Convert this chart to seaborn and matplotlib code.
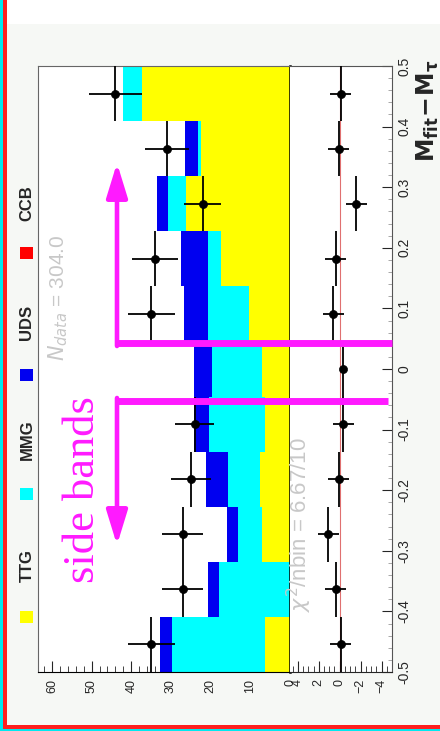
import numpy as np
import pandas as pd
import matplotlib
matplotlib.use("Agg")
import matplotlib.pyplot as plt
from matplotlib.patches import Rectangle
from matplotlib.ticker import MultipleLocator, FuncFormatter
import seaborn as sns

sns.set_style("white")
plt.rcParams["font.family"] = ["Liberation Sans", "DejaVu Sans"]

# Binning in M_fit - M_tau (11 bins between -0.5 and 0.5)
m_edges = np.linspace(-0.5, 0.5, 12)
m_centers = (m_edges[:-1] + m_edges[1:]) / 2

# Stacked MC components per bin
ttg = [6.4, 0.0, 7.1, 7.6, 6.4, 7.1, 10.4, 17.3, 26.2, 22.4, 37.2]
mmg = [23.4, 17.8, 5.9, 7.9, 14.0, 12.5, 10.2, 3.3, 4.6, 0.8, 4.8]
uds = [3.0, 2.8, 2.8, 5.6, 3.8, 4.6, 6.1, 6.9, 2.8, 3.3, 0.0]
ccb = [0.0] * 11

# Data (signal bin is blinded)
data_counts = [35, 27, 27, 25, 24, np.nan, 35, 34, 22, 31, 44]
data_err = [5.9, 5.2, 5.2, 5.0, 4.9, np.nan, 5.9, 5.8, 4.7, 5.6, 6.6]

# Residuals in the lower pad
pulls = [-0.1, 0.4, 1.1, 0.1, -0.35, -0.35, 0.6, 0.4, -1.6, 0.1, -0.1]
pull_err = [1.0, 1.0, 1.0, 1.0, 1.0, 0.0, 1.0, 1.0, 1.0, 1.0, 1.0]

components = ["TTG", "MMG", "UDS", "CCB"]
colors = {"TTG": "#ffff00", "MMG": "#00ffff", "UDS": "#0000f0", "CCB": "#ff0000"}

df = pd.DataFrame({
    "m": np.tile(m_centers, 4),
    "count": ttg + mmg + uds + ccb,
    "comp": np.repeat(components, 11),
})

W, H = 440, 731
fig = plt.figure(figsize=(W / 100, H / 100), dpi=100, facecolor="#f6f8f5")


def box(x0, y0, x1, y1):
    return [x0 / W, 1 - y1 / H, (x1 - x0) / W, (y1 - y0) / H]


ax = fig.add_axes(box(38, 66, 290, 672))
axr = fig.add_axes(box(290, 66, 392, 672))

# stacked histogram, drawn sideways (picture is rotated)
sns.histplot(data=df, y="m", weights="count", hue="comp",
             hue_order=["CCB", "UDS", "MMG", "TTG"], multiple="stack",
             bins=[float(e) for e in m_edges], palette=colors, alpha=1,
             linewidth=0, legend=False, ax=ax)

half = (m_edges[1] - m_edges[0]) / 2
ax.errorbar(x=data_counts, y=m_centers, xerr=data_err, yerr=half,
            fmt="none", ecolor="black", elinewidth=1.3, zorder=4)
sns.scatterplot(x=data_counts, y=m_centers, color="black", s=34,
                edgecolor="black", ax=ax, zorder=5)

ax.set_xlim(63.5, 0)
ax.set_ylim(-0.5, 0.5)
ax.set_xlabel("")
ax.set_ylabel("")
ax.xaxis.set_major_locator(MultipleLocator(10))
ax.xaxis.set_minor_locator(MultipleLocator(2))
ax.yaxis.set_major_locator(MultipleLocator(0.1))
ax.yaxis.set_minor_locator(MultipleLocator(0.02))
ax.tick_params(axis="x", which="both", direction="in", bottom=True,
               labelrotation=90, labelsize=9, pad=5)
ax.tick_params(axis="x", which="major", length=8, width=0.8)
ax.tick_params(axis="x", which="minor", length=4, width=0.6)
ax.tick_params(axis="y", which="both", direction="in", left=False,
               right=True, labelleft=False, labelright=False, color="#999999")
ax.tick_params(axis="y", which="major", length=7)
ax.tick_params(axis="y", which="minor", length=3)
for s in ["top", "left"]:
    ax.spines[s].set_color("#666666")
    ax.spines[s].set_linewidth(0.8)
ax.spines["right"].set_color("black")
ax.spines["right"].set_linewidth(1.8)
ax.spines["bottom"].set_color("black")
ax.set_facecolor("white")

# residual pad
axr.axvline(0, color="#e07070", lw=0.8, zorder=1)
axr.errorbar(x=pulls, y=m_centers, xerr=pull_err, yerr=half, fmt="none",
             ecolor="black", elinewidth=1.3, zorder=4)
sns.scatterplot(x=pulls, y=m_centers, color="black", s=34,
                edgecolor="black", ax=axr, zorder=5)
axr.set_xlim(4.75, -5.0)
axr.set_ylim(-0.5, 0.5)
axr.xaxis.set_major_locator(MultipleLocator(2))
axr.xaxis.set_minor_locator(MultipleLocator(0.5))
axr.yaxis.set_major_locator(MultipleLocator(0.1))
axr.yaxis.set_minor_locator(MultipleLocator(0.02))
axr.yaxis.set_major_formatter(FuncFormatter(lambda v, p: "0" if abs(v) < 1e-9 else f"{v:.1f}"))
axr.tick_params(axis="x", which="both", direction="in", bottom=True,
                labelrotation=90, labelsize=9, pad=5)
axr.tick_params(axis="x", which="major", length=8, width=0.8)
axr.tick_params(axis="x", which="minor", length=4, width=0.6)
axr.tick_params(axis="y", which="both", direction="in", left=False,
                right=True, labelleft=False, labelright=True,
                labelrotation=90, labelsize=10, pad=4)
axr.tick_params(axis="y", which="major", length=7)
axr.tick_params(axis="y", which="minor", length=3, color="#999999")
for lab in axr.get_yticklabels():
    lab.set_va("center")
for s in ["top", "left", "right"]:
    axr.spines[s].set_color("#555555")
    axr.spines[s].set_linewidth(0.8)
axr.spines["left"].set_visible(False)
axr.set_xlabel("")
axr.set_ylabel("")
axr.set_facecolor("white")

fig.text(428 / W, 1 - 60 / H, r"$\mathbf{M_{fit}\!-\!M_{\tau}}$", rotation=90,
         ha="center", va="top", fontsize=17)

# overlay in pixel coordinates for legend, annotations and frame
ov = fig.add_axes([0, 0, 1, 1], zorder=10)
ov.set_xlim(0, W)
ov.set_ylim(H, 0)
ov.axis("off")
ov.patch.set_visible(False)

# white strip along the top of the page
ov.add_patch(Rectangle((0, 0), W, 24, color="white", lw=0, zorder=0))

legend_y = {"TTG": (617, 566), "MMG": (494, 440), "UDS": (375, 322), "CCB": (253, 203)}
for comp, (ym, yt) in legend_y.items():
    ov.add_patch(Rectangle((20, ym - 6), 13, 12, color=colors[comp], lw=0))
    ov.text(27, yt, comp, rotation=90, ha="center", va="center",
            fontsize=12, fontweight="bold")

ov.text(58, 298, r"$N_{data}$ = 304.0", rotation=90, ha="center",
        va="center", fontsize=15, color="#c8c8c8")
ov.text(299, 525, r"$\chi^2$/nbin = 6.67/10", rotation=90, ha="center",
        va="center", fontsize=16, color="#c8c8c8")

mag = "#ff1aff"
ov.plot([117, 392], [343, 343], color=mag, lw=5, solid_capstyle="butt")
ov.plot([115, 388], [401, 401], color=mag, lw=5, solid_capstyle="butt")
ov.annotate("", xy=(117, 163), xytext=(117, 346),
            arrowprops=dict(arrowstyle="-|>,head_length=1.3,head_width=0.4",
                            color=mag, lw=3.3, mutation_scale=16,
                            shrinkA=0, shrinkB=0))
ov.annotate("", xy=(117, 545), xytext=(117, 398),
            arrowprops=dict(arrowstyle="-|>,head_length=1.3,head_width=0.4",
                            color=mag, lw=3.3, mutation_scale=16,
                            shrinkA=0, shrinkB=0))
ov.text(83, 490, "side bands", rotation=90, ha="center", va="center",
        fontsize=32, color=mag, family="Liberation Serif")

# coloured frame on the left and bottom
ov.add_patch(Rectangle((0, 0), 3, H, color="#00e8f0", lw=0))
ov.add_patch(Rectangle((3, 0), 4, 728, color="#ff2020", lw=0))
ov.add_patch(Rectangle((0, 728), W, 3, color="#00e8f0", lw=0))
ov.add_patch(Rectangle((3, 725), W, 3.5, color="#ff2020", lw=0))

fig.savefig("out.png", dpi=100, facecolor=fig.get_facecolor())
